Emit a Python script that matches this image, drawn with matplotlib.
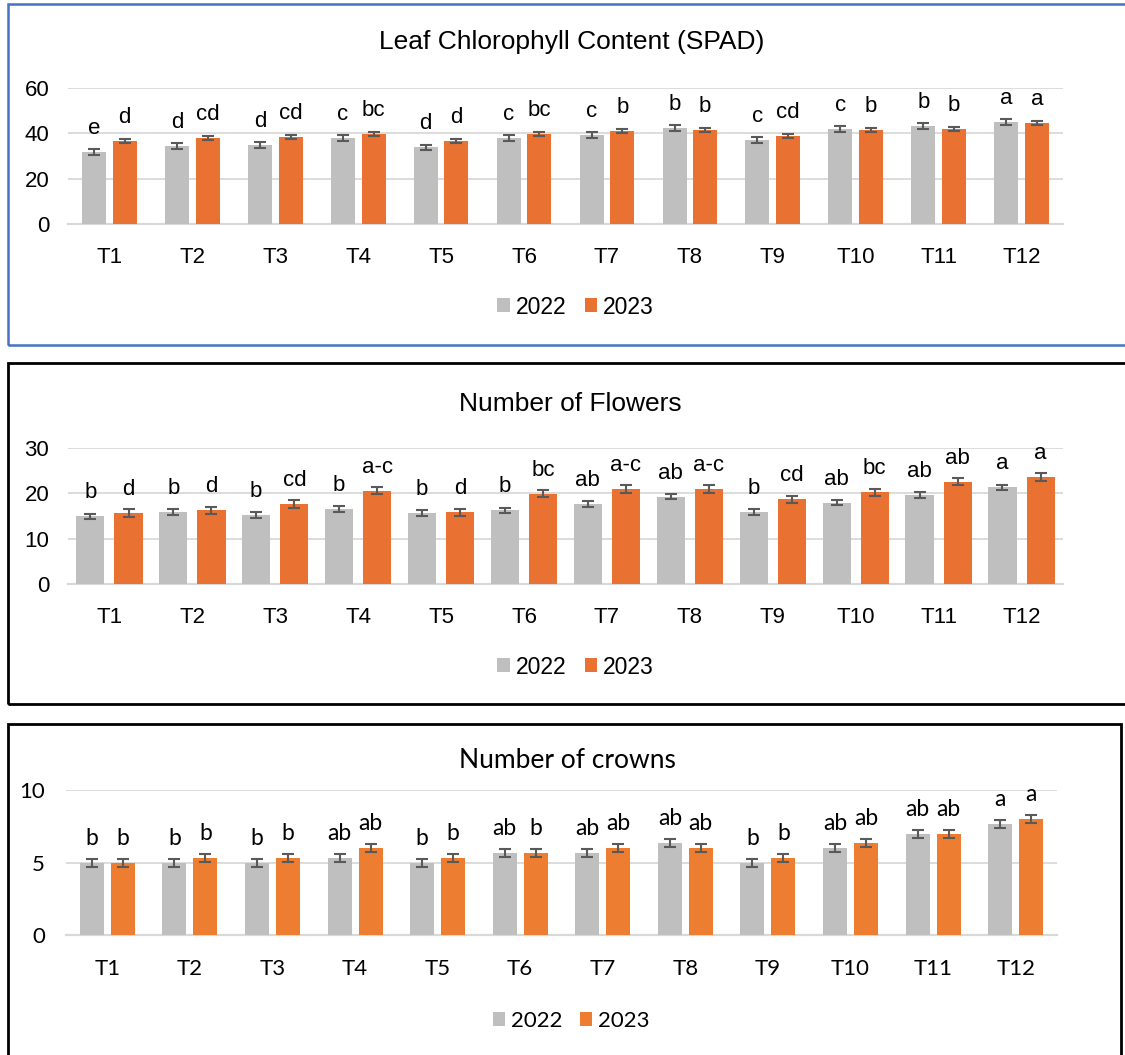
import matplotlib
matplotlib.use("Agg")
import matplotlib.pyplot as plt
from matplotlib.patches import Patch, Rectangle

# ---- data ----
treatments = ["T1", "T2", "T3", "T4", "T5", "T6", "T7", "T8", "T9", "T10", "T11", "T12"]
years = ["2022", "2023"]

spad_2022 = [31.7, 34.3, 34.9, 37.9, 33.7, 38.0, 39.3, 42.3, 37.0, 41.7, 43.0, 44.9]
spad_2023 = [36.4, 37.7, 38.3, 39.7, 36.4, 39.7, 40.9, 41.4, 38.7, 41.4, 41.8, 44.3]
spad_err_2022 = [1.25, 1.25, 1.3, 1.3, 1.25, 1.3, 1.3, 1.3, 1.3, 1.3, 1.3, 1.4]
spad_err_2023 = [0.85, 0.9, 0.85, 0.8, 0.85, 0.8, 0.9, 0.85, 0.85, 0.85, 0.85, 0.9]
spad_let_2022 = ["e", "d", "d", "c", "d", "c", "c", "b", "c", "c", "b", "a"]
spad_let_2023 = ["d", "cd", "cd", "bc", "d", "bc", "b", "b", "cd", "b", "b", "a"]

flow_2022 = [14.9, 15.8, 15.2, 16.5, 15.6, 16.2, 17.5, 19.2, 15.8, 17.9, 19.6, 21.3]
flow_2023 = [15.6, 16.2, 17.6, 20.5, 15.8, 19.9, 20.9, 20.9, 18.6, 20.2, 22.5, 23.5]
flow_err_2022 = [0.6, 0.6, 0.6, 0.6, 0.6, 0.6, 0.66, 0.6, 0.6, 0.6, 0.6, 0.6]
flow_err_2023 = [0.8, 0.8, 0.8, 0.8, 0.8, 0.8, 0.8, 0.8, 0.8, 0.8, 0.8, 0.88]
flow_let_2022 = ["b", "b", "b", "b", "b", "b", "ab", "ab", "b", "ab", "ab", "a"]
flow_let_2023 = ["d", "d", "cd", "a-c", "d", "bc", "a-c", "a-c", "cd", "bc", "ab", "a"]

crown_2022 = [5.0, 5.0, 5.0, 5.33, 5.0, 5.67, 5.67, 6.33, 5.0, 6.0, 7.0, 7.67]
crown_2023 = [5.0, 5.33, 5.33, 6.0, 5.33, 5.67, 6.0, 6.0, 5.33, 6.33, 7.0, 8.0]
crown_err_2022 = [0.28] * 12
crown_err_2023 = [0.27] * 12
crown_let_2022 = ["b", "b", "b", "ab", "b", "ab", "ab", "ab", "b", "ab", "ab", "a"]
crown_let_2023 = ["b", "b", "b", "ab", "b", "b", "ab", "ab", "b", "ab", "ab", "a"]

# ---- figure ----
W, H = 1125, 1055
fig = plt.figure(figsize=(W / 100, H / 100), dpi=100)

GRAY = "#BFBFBF"
GRID = "#D9D9D9"
ERR = "#595959"


def px_axes(x0, x1, ytop, ybot):
    return fig.add_axes([x0 / W, 1 - ybot / H, (x1 - x0) / W, (ybot - ytop) / H])


def panel(box, title, title_xy, v22, v23, e22, e23, l22, l23, ymax, ystep,
          orange, font, sizes, width, gap, legend_xy, ypad, xpad):
    x0, x1, ytop, ybot = box
    ax = px_axes(x0, x1, ytop, ybot)
    fs_title, fs_tick, fs_let, fs_leg = sizes
    xs = list(range(len(treatments)))
    off = width / 2 + gap / 2
    xa = [x - off for x in xs]
    xb = [x + off for x in xs]
    ax.bar(xa, v22, width=width, color=GRAY, zorder=2)
    ax.bar(xb, v23, width=width, color=orange, zorder=2)
    ekw = dict(fmt="none", ecolor=ERR, elinewidth=1.5, capsize=4.5, capthick=1.5, zorder=3)
    ax.errorbar(xa, v22, yerr=e22, **ekw)
    ax.errorbar(xb, v23, yerr=e23, **ekw)
    for x, v, t in zip(xa, v22, l22):
        ax.annotate(t, xy=(x, v), xytext=(0, 13), textcoords="offset points",
                    ha="center", va="baseline", fontsize=fs_let, family=font)
    for x, v, t in zip(xb, v23, l23):
        ax.annotate(t, xy=(x, v), xytext=(0, 13), textcoords="offset points",
                    ha="center", va="baseline", fontsize=fs_let, family=font)
    ax.set_xlim(-0.5, len(treatments) - 0.5)
    ax.set_ylim(0, ymax)
    ax.set_yticks(range(0, ymax + 1, ystep))
    ax.set_xticks(xs)
    ax.set_xticklabels(treatments, fontsize=fs_tick, family=font)
    for lab in ax.get_yticklabels():
        lab.set_fontsize(fs_tick)
        lab.set_family(font)
    ax.tick_params(axis="both", length=0)
    ax.tick_params(axis="y", pad=ypad)
    ax.tick_params(axis="x", pad=xpad)
    ax.yaxis.grid(True, color=GRID, linewidth=1.3, zorder=0)
    ax.set_axisbelow(True)
    for s in ["top", "right", "left"]:
        ax.spines[s].set_visible(False)
    ax.spines["bottom"].set_color(GRID)
    ax.spines["bottom"].set_linewidth(1.6)
    ax.spines["bottom"].set_zorder(1)
    fig.text(title_xy[0] / W, 1 - title_xy[1] / H, title, ha="center", va="center",
             fontsize=fs_title, family=font)
    handles = [Patch(facecolor=GRAY, label=years[0]), Patch(facecolor=orange, label=years[1])]
    fig.legend(handles=handles, loc="center", ncol=2, frameon=False,
               bbox_to_anchor=(legend_xy[0] / W, 1 - legend_xy[1] / H),
               prop={"family": font, "size": fs_leg},
               handlelength=0.55, handleheight=0.55, handletextpad=0.25,
               columnspacing=0.8, borderaxespad=0, borderpad=0)
    return ax


def frame(x0, y0, x1, y1, color, lw):
    fig.add_artist(Rectangle((x0 / W, 1 - y1 / H), (x1 - x0) / W, (y1 - y0) / H,
                             transform=fig.transFigure, fill=False,
                             edgecolor=color, linewidth=lw, zorder=10))


ARIAL = "Liberation Sans"
CALIBRI = "Lato"

panel((68, 1063, 87.7, 224), "Leaf Chlorophyll Content (SPAD)", (572, 42),
      spad_2022, spad_2023, spad_err_2022, spad_err_2023, spad_let_2022, spad_let_2023,
      60, 20, "#E97132", ARIAL, (19, 16, 16, 16.5), 0.29, 0.08, (575.5, 307), 13.5, 16.5)

panel((68, 1063, 447.7, 584), "Number of Flowers", (570, 404),
      flow_2022, flow_2023, flow_err_2022, flow_err_2023, flow_let_2022, flow_let_2023,
      30, 10, "#E97132", ARIAL, (19, 16, 16, 16.5), 0.34, 0.12, (575.5, 667), 13.5, 16.5)

panel((66, 1057, 790, 935.3), "Number of crowns", (567, 760),
      crown_2022, crown_2023, crown_err_2022, crown_err_2023, crown_let_2022, crown_let_2023,
      10, 5, "#ED7D31", CALIBRI, (19, 16, 16.5, 16), 0.29, 0.085, (571, 1021), 15, 17)

frame(8, 4, 1135, 345, "#4472C4", 1.8)
frame(8, 363, 1135, 704, "black", 2.0)
frame(8, 724, 1121, 1065, "black", 2.0)

fig.savefig("out.png", dpi=100, facecolor="white")
